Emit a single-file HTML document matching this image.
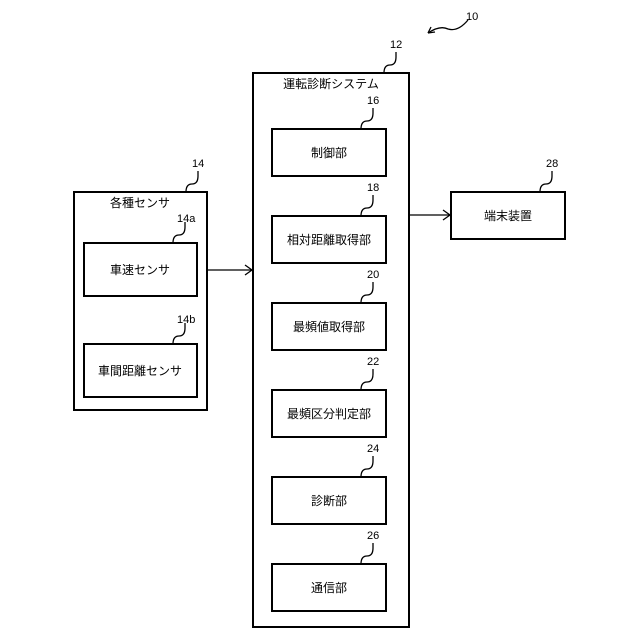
<!DOCTYPE html>
<html><head><meta charset="utf-8"><style>
body{margin:0;background:#fff}
svg{display:block}
text{font-family:"Liberation Sans","Noto Sans CJK JP",sans-serif;font-size:12px;fill:#000}
.n{font-size:11px}
</style></head><body>
<svg width="640" height="640" viewBox="0 0 640 640" xmlns="http://www.w3.org/2000/svg">
<g fill="none" stroke="#000" stroke-width="2">
<rect x="253" y="73" width="156" height="554"/>
<rect x="272" y="129" width="114" height="47"/>
<rect x="272" y="216" width="114" height="47"/>
<rect x="272" y="303" width="114" height="47"/>
<rect x="272" y="390" width="114" height="47"/>
<rect x="272" y="477" width="114" height="47"/>
<rect x="272" y="564" width="114" height="47"/>
<rect x="74" y="192" width="133" height="218"/>
<rect x="84" y="243" width="113" height="53"/>
<rect x="84" y="344" width="113" height="53"/>
<rect x="451" y="192" width="114" height="47"/>
</g>
<g fill="none" stroke="#000" stroke-width="1.3">
<line x1="207" y1="270" x2="252" y2="270"/><path d="M245 265 L252 270 L245 275"/>
<line x1="409" y1="215" x2="450" y2="215"/><path d="M443 210 L450 215 L443 220"/>
<path d="M384 73 q0-8 6-8 q6 0 6-8 v-5"/>
<path d="M361 129 q0-8 6-8 q6 0 6-8 v-5"/>
<path d="M361 216 q0-8 6-8 q6 0 6-8 v-5"/>
<path d="M361 303 q0-8 6-8 q6 0 6-8 v-5"/>
<path d="M361 390 q0-8 6-8 q6 0 6-8 v-5"/>
<path d="M361 477 q0-8 6-8 q6 0 6-8 v-5"/>
<path d="M361 564 q0-8 6-8 q6 0 6-8 v-5"/>
<path d="M186 192 q0-8 6-8 q6 0 6-8 v-5"/>
<path d="M173 243 q0-8 6-8 q6 0 6-8 v-5"/>
<path d="M173 344 q0-8 6-8 q6 0 6-8 v-5"/>
<path d="M540 192 q0-8 6-8 q6 0 6-8 v-5"/>
<path d="M428 33 q12-8 20-4 q10 3 20-9"/><path d="M428 33 l7-1 M428 33 l3-6"/>
</g>
<text class="n" x="466" y="20">10</text>
<text class="n" x="390" y="48">12</text>
<text class="n" x="367" y="104">16</text>
<text class="n" x="367" y="191">18</text>
<text class="n" x="367" y="278">20</text>
<text class="n" x="367" y="365">22</text>
<text class="n" x="367" y="452">24</text>
<text class="n" x="367" y="539">26</text>
<text class="n" x="192" y="167">14</text>
<text class="n" x="177" y="222">14a</text>
<text class="n" x="177" y="323">14b</text>
<text class="n" x="546" y="167">28</text>
<g text-anchor="middle">
<text x="331" y="88">運転診断システム</text>
<text x="329" y="157">制御部</text>
<text x="329" y="244">相対距離取得部</text>
<text x="329" y="331">最頻値取得部</text>
<text x="329" y="418">最頻区分判定部</text>
<text x="329" y="505">診断部</text>
<text x="329" y="592">通信部</text>
<text x="140" y="207">各種センサ</text>
<text x="140" y="274">車速センサ</text>
<text x="140" y="375">車間距離センサ</text>
<text x="508" y="220">端末装置</text>
</g>
</svg>
</body></html>
